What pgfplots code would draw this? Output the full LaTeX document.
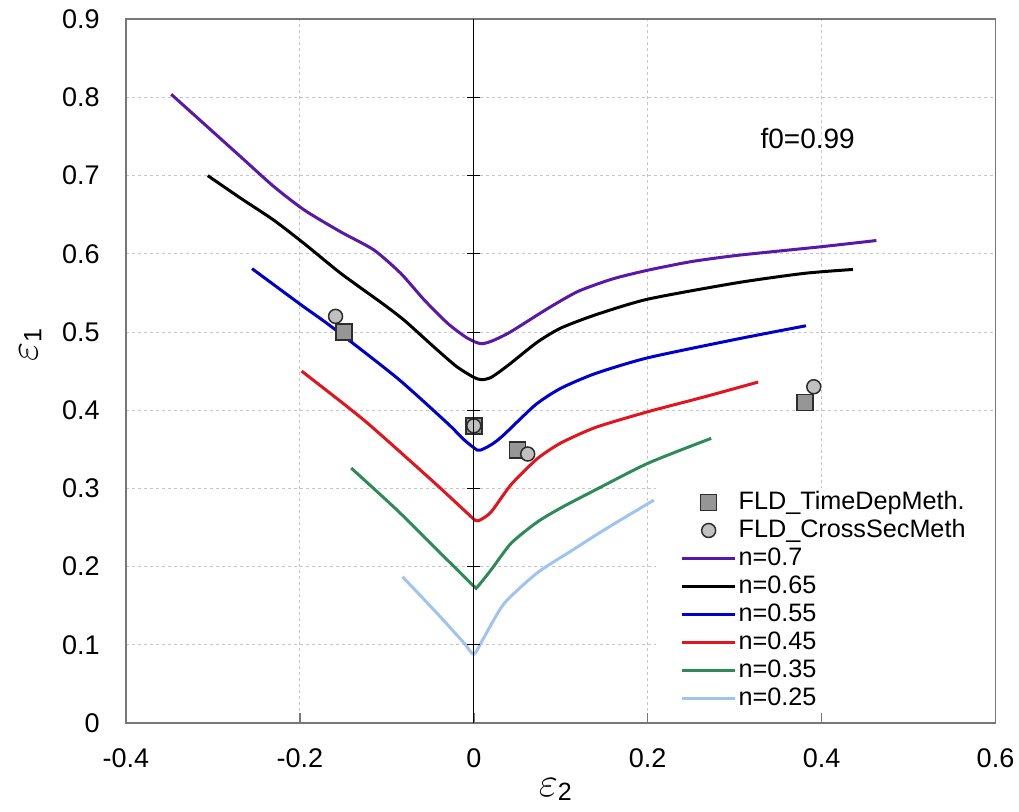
\documentclass[border=0pt]{standalone}
\usepackage{fontspec}
\setmainfont{Liberation Sans}
\usepackage{pgfplots}
\pgfplotsset{compat=1.18}
\definecolor{cP}{RGB}{88,24,168}
\definecolor{cB}{RGB}{0,0,204}
\definecolor{cR}{RGB}{228,20,30}
\definecolor{cG}{RGB}{46,139,87}
\definecolor{cL}{RGB}{160,196,240}
\definecolor{frameC}{RGB}{120,120,120}
\definecolor{sqF}{RGB}{150,150,150}
\definecolor{ciF}{RGB}{192,192,192}
\definecolor{edgeC}{RGB}{45,45,45}
\begin{document}
\begin{tikzpicture}
\begin{axis}[
  at={(0,0)}, anchor=south west, scale only axis,
  width=434.75pt, height=351.9pt,
  xmin=-0.4, xmax=0.6, ymin=0, ymax=0.9,
  xtick={-0.4,-0.2,0,0.2,0.4,0.6},
  ytick={0,0.1,0.2,0.3,0.4,0.5,0.6,0.7,0.8,0.9},
  grid=major,
  grid style={dash pattern=on 1.5pt off 1.5pt, color=gray!45, line width=0.5pt},
  axis line style={frameC, line width=0.75pt},
  xtick pos=left, tick align=inside, major tick length=5pt,
  ytick style={draw=none},
  xtick style={frameC, line width=0.75pt},
  /pgf/number format/assume math mode=true,
  ticklabel style={font=\fontsize{13.5}{16}\selectfont},
  xticklabel style={anchor=north, inner sep=0pt, yshift=-12.5pt},
  yticklabel style={anchor=east, inner sep=0pt, xshift=-13pt},
  xlabel={{\fontsize{21}{21}\selectfont$\varepsilon$}\raisebox{-2pt}{\fontsize{12.5}{12.5}\selectfont 2}},
  ylabel={{\fontsize{21}{21}\selectfont$\varepsilon$}\raisebox{-2pt}{\fontsize{12.5}{12.5}\selectfont 1}},
  xlabel style={at={(axis description cs:0.4937,-0.094)}, anchor=center, inner sep=0pt},
  ylabel style={at={(axis description cs:-0.110,0.537)}, anchor=center, inner sep=0pt},
  set layers,
  legend style={at={(0.6087,0.3338)}, anchor=north west, draw=none, fill=white,
    inner xsep=12.5pt, inner ysep=0pt, row sep=0pt,
    font=\fontsize{12.6}{14}\selectfont,
    nodes={inner xsep=1pt, inner ysep=0pt, text height=10.5pt, text depth=3.5pt}},
  legend cell align=left,
  legend image code/.code={\draw[mark repeat=2,mark phase=2] plot coordinates {(0pt,0pt)(13.25pt,0pt)(26.5pt,0pt)};},
  every axis plot/.append style={line width=1.5pt},
]
\addplot[only marks, mark=square*, mark size=4pt, fill=sqF, draw=edgeC, line width=0.75pt, on layer=axis foreground]
  coordinates {(-0.149,0.500) (0,0.380) (0.050,0.349) (0.381,0.410)};
\addlegendentry{FLD\_TimeDepMeth.}
\addplot[only marks, mark=*, mark size=3.5pt, fill=ciF, draw=edgeC, line width=0.75pt, on layer=axis foreground]
  coordinates {(-0.159,0.520) (0,0.380) (0.062,0.344) (0.391,0.430)};
\addlegendentry{FLD\_CrossSecMeth}
\addplot[cP, smooth, tension=0.4] coordinates {
(-0.348,0.804) (-0.306,0.762) (-0.268,0.724) (-0.230,0.686) (-0.195,0.656)
(-0.153,0.628) (-0.115,0.605) (-0.084,0.575) (-0.057,0.541) (-0.030,0.511)
(-0.010,0.494) (0.002,0.487) (0.010,0.485) (0.022,0.489) (0.042,0.500)
(0.085,0.530) (0.120,0.552) (0.160,0.568) (0.200,0.579) (0.250,0.590)
(0.303,0.598) (0.399,0.609) (0.463,0.617)};
\addlegendentry{n=0.7}
\addplot[black, smooth, tension=0.4] coordinates {
(-0.306,0.700) (-0.268,0.671) (-0.230,0.643) (-0.195,0.613) (-0.153,0.575)
(-0.107,0.538) (-0.080,0.515) (-0.046,0.481) (-0.020,0.456) (0.000,0.442)
(0.009,0.439) (0.020,0.442) (0.039,0.457) (0.073,0.487) (0.100,0.505)
(0.140,0.522) (0.200,0.542) (0.303,0.563) (0.380,0.575) (0.436,0.580)};
\addlegendentry{n=0.65}
\addplot[cB, smooth, tension=0.4] coordinates {
(-0.255,0.581) (-0.199,0.535) (-0.164,0.507) (-0.088,0.441) (-0.030,0.383)
(-0.012,0.363) (0.004,0.349) (0.012,0.351) (0.023,0.358) (0.035,0.369)
(0.071,0.407) (0.100,0.428) (0.140,0.447) (0.200,0.467) (0.303,0.491) (0.382,0.508)};
\addlegendentry{n=0.55}
\addplot[cR, smooth, tension=0.4] coordinates {
(-0.198,0.450) (-0.126,0.387) (-0.049,0.311) (-0.011,0.272) (0.002,0.259)
(0.008,0.260) (0.020,0.270) (0.043,0.305) (0.073,0.338) (0.100,0.358)
(0.140,0.378) (0.200,0.398) (0.265,0.417) (0.327,0.436)};
\addlegendentry{n=0.45}
\addplot[cG, smooth, tension=0.4] coordinates {
(-0.141,0.326) (-0.088,0.272) (-0.030,0.208) (0.000,0.175) (0.004,0.174)
(0.020,0.196) (0.043,0.230) (0.073,0.257) (0.100,0.275) (0.131,0.293)
(0.200,0.332) (0.273,0.364)};
\addlegendentry{n=0.35}
\addplot[cL, smooth, tension=0.4] coordinates {
(-0.082,0.187) (-0.042,0.140) (-0.011,0.102) (0.000,0.088) (0.012,0.110)
(0.035,0.153) (0.073,0.192) (0.112,0.220) (0.150,0.247) (0.207,0.285)};
\addlegendentry{n=0.25}
\node[font=\fontsize{14}{16}\selectfont] at (axis cs:0.384,0.748) {f0=0.99};
\end{axis}
\begin{axis}[
  at={(0,0)}, anchor=south west, scale only axis,
  width=434.75pt, height=351.9pt,
  xmin=-0.4, xmax=0.6, ymin=0, ymax=0.9,
  axis x line=none, axis y line=center,
  axis line style={-, black, line width=0.6pt},
  every inner y axis line/.append style={-},
  xtick=\empty,
  ytick={0.1,0.2,0.3,0.4,0.5,0.6,0.7,0.8},
  yticklabels={},
  tick align=center, major tick length=6.5pt,
  ytick style={black, line width=0.5pt},
]
\addplot[draw=none, forget plot] coordinates {(0,0.1)};
\end{axis}
\pgfresetboundingbox
\path[use as bounding box] (-63pt,-44pt) rectangle (446.5pt,361.5pt);
\end{tikzpicture}
\end{document}
